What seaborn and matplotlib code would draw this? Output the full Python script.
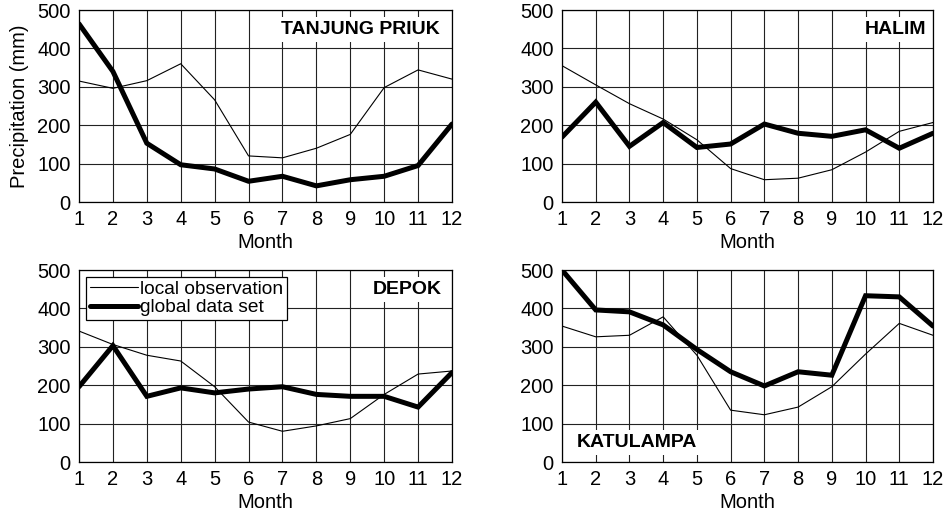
import matplotlib
matplotlib.use("Agg")
import matplotlib.pyplot as plt
import seaborn as sns
import pandas as pd

months = list(range(1, 13))

stations = ["TANJUNG PRIUK", "HALIM", "DEPOK", "KATULAMPA"]

# monthly precipitation (mm)
tanjung_priuk_local = [315, 296, 316, 360, 266, 120, 115, 140, 176, 298, 344, 320]
tanjung_priuk_global = [464, 340, 153, 97, 86, 54, 67, 42, 58, 67, 95, 203]

halim_local = [355, 305, 256, 216, 162, 87, 58, 62, 84, 130, 184, 207]
halim_global = [169, 260, 145, 207, 142, 151, 203, 179, 171, 188, 140, 179]

depok_local = [341, 306, 278, 263, 196, 104, 80, 94, 113, 176, 229, 237]
depok_global = [196, 303, 171, 193, 180, 190, 196, 176, 171, 171, 143, 233]

katulampa_local = [354, 326, 330, 378, 278, 135, 123, 143, 196, 281, 361, 330]
katulampa_global = [500, 396, 391, 357, 293, 235, 198, 235, 226, 433, 430, 354]

series_names = ["local observation", "global data set"]

local_values = [tanjung_priuk_local, halim_local, depok_local, katulampa_local]
global_values = [tanjung_priuk_global, halim_global, depok_global, katulampa_global]

rows = []
for st, loc, glo in zip(stations, local_values, global_values):
    for m, v in zip(months, loc):
        rows.append({"station": st, "series": series_names[0], "Month": m, "Precipitation": v})
    for m, v in zip(months, glo):
        rows.append({"station": st, "series": series_names[1], "Month": m, "Precipitation": v})
df = pd.DataFrame(rows)

sns.set_style("white")
plt.rcParams["font.family"] = ["Liberation Sans", "DejaVu Sans"]
plt.rcParams["text.color"] = "black"
plt.rcParams["axes.labelcolor"] = "black"
plt.rcParams["xtick.color"] = "black"
plt.rcParams["ytick.color"] = "black"

FS = 14.5

W, H = 944, 513
fig = plt.figure(figsize=(W / 100, H / 100), dpi=100)


def px_axes(x0, y0, x1, y1):
    return fig.add_axes([x0 / W, 1 - y1 / H, (x1 - x0) / W, (y1 - y0) / H])


axes = [
    px_axes(79, 10, 452, 202),
    px_axes(562, 10, 933, 202),
    px_axes(79, 270, 452, 462),
    px_axes(562, 270, 933, 462),
]

label_pos = [
    dict(x=0.968, y=0.90, ha="right", va="center"),
    dict(x=0.983, y=0.90, ha="right", va="center"),
    dict(x=0.972, y=0.90, ha="right", va="center"),
    dict(x=0.04, y=0.10, ha="left", va="center"),
]

for i, (ax, st) in enumerate(zip(axes, stations)):
    d = df[df["station"] == st]
    sns.lineplot(data=d[d["series"] == series_names[0]], x="Month", y="Precipitation",
                 color="black", linewidth=0.8, ax=ax, label=series_names[0])
    sns.lineplot(data=d[d["series"] == series_names[1]], x="Month", y="Precipitation",
                 color="black", linewidth=3.6, ax=ax, label=series_names[1],
                 solid_joinstyle="miter")
    ax.set_xlim(1, 12)
    ax.set_ylim(0, 500)
    ax.set_xticks(months)
    ax.set_yticks([0, 100, 200, 300, 400, 500])
    ax.grid(True, color="#222222", linewidth=0.8)
    ax.set_axisbelow(True)
    for sp in ax.spines.values():
        sp.set_color("black")
        sp.set_linewidth(0.9)
    ax.tick_params(length=0, pad=6, labelsize=FS, colors="black")
    ax.set_xlabel("Month", fontsize=FS, labelpad=3)
    ax.set_ylabel("")
    ax.text(transform=ax.transAxes, s=st, fontsize=14, fontweight="bold",
            bbox=dict(facecolor="white", edgecolor="none", pad=3), zorder=5,
            **label_pos[i])
    if i == 2:
        leg = ax.legend(loc="upper left", bbox_to_anchor=(0.008, 0.985),
                        frameon=True, fancybox=False, fontsize=13.8,
                        handlelength=2.5, handletextpad=0.15,
                        borderpad=0.2, labelspacing=0.05, borderaxespad=0.2)
        leg.get_frame().set_edgecolor("black")
        leg.get_frame().set_linewidth(0.9)
        leg.get_frame().set_alpha(1)
    else:
        ax.get_legend().remove()

axes[0].set_ylabel("Precipitation (mm)", fontsize=FS, labelpad=6)

fig.savefig("out.png", dpi=100)
